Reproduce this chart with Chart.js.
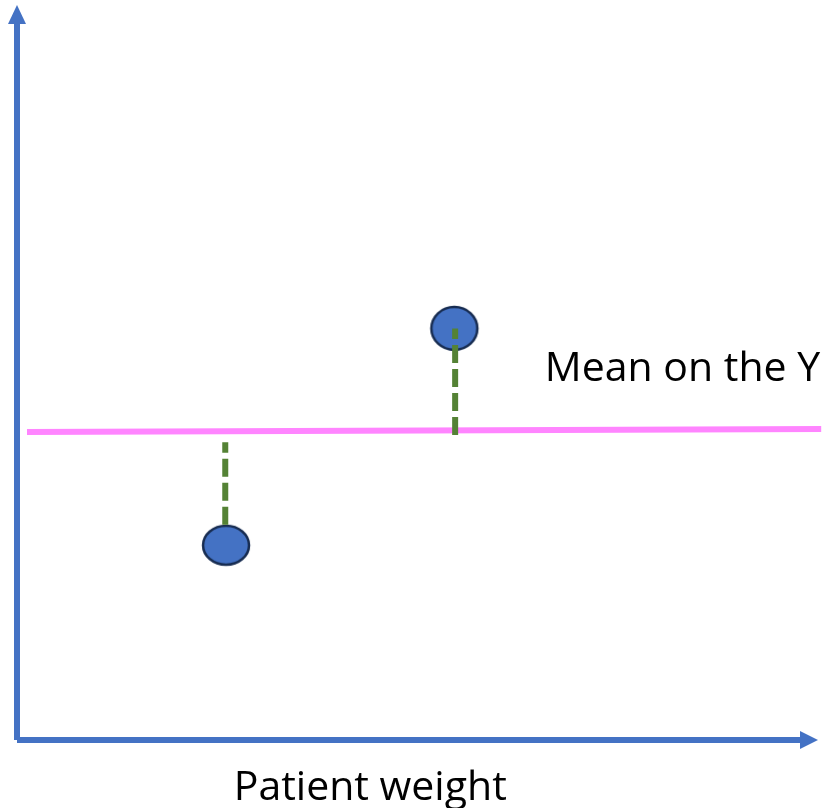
<!DOCTYPE html>
<html>
<head>
<meta charset="utf-8">
<script src="https://cdn.jsdelivr.net/npm/chart.js@4/dist/chart.umd.min.js"></script>
<style>
  html, body { margin: 0; padding: 0; background: #fff; }
  #wrap { width: 831px; height: 808px; }
</style>
</head>
<body>
<div id="wrap"><canvas id="chart"></canvas></div>
<script>
// two patients, arbitrary units, axes meet at 0,0 and run to 100
const patientWeight = [26.1, 54.6];
const patientValue = [26.5, 56.0];
// dashed residuals: bottom end and top end on the y scale
const residualX = [26.0, 54.7];
const residualLow = [29.3, 41.5];
const residualHigh = [40.5, 56.0];
// mean of y (drawn slightly tilted, as in the sketch)
const meanX = [1.25, 100.4];
const meanY = [41.9, 42.3];
const xLabel = "Patient weight";
const meanLabel = "Mean on the Y";

const blue = "#4472C4";
const green = "#548235";
const pink = "#FF85FF";

function ellipse(w, h) {
  const c = document.createElement("canvas");
  c.width = w + 4;
  c.height = h + 4;
  const g = c.getContext("2d");
  g.beginPath();
  g.ellipse(c.width / 2, c.height / 2, w / 2 - 1, h / 2 - 1, 0, 0, Math.PI * 2);
  g.fillStyle = blue;
  g.fill();
  g.lineWidth = 2.5;
  g.strokeStyle = "#172C51";
  g.stroke();
  return c;
}

const axesAndText = {
  id: "axesAndText",
  beforeDatasetsDraw(chart) {
    const ctx = chart.ctx;
    const x = chart.scales.x, y = chart.scales.y;
    const x0 = x.getPixelForValue(0), y0 = y.getPixelForValue(0);
    const xEnd = x.getPixelForValue(100), yEnd = y.getPixelForValue(100);
    ctx.save();
    ctx.strokeStyle = blue;
    ctx.fillStyle = blue;
    ctx.lineWidth = 6;
    ctx.lineCap = "butt";
    ctx.beginPath();
    ctx.moveTo(x0, y0);
    ctx.lineTo(x0, yEnd + 19);
    ctx.moveTo(x0, y0);
    ctx.lineTo(xEnd - 18, y0);
    ctx.stroke();
    // arrow heads
    ctx.beginPath();
    ctx.moveTo(x0, yEnd);
    ctx.lineTo(x0 + 9, yEnd + 19);
    ctx.lineTo(x0 - 9, yEnd + 19);
    ctx.closePath();
    ctx.fill();
    ctx.beginPath();
    ctx.moveTo(xEnd, y0);
    ctx.lineTo(xEnd - 18, y0 - 9);
    ctx.lineTo(xEnd - 18, y0 + 9);
    ctx.closePath();
    ctx.fill();
    ctx.restore();
  },
  afterDatasetsDraw(chart) {
    const ctx = chart.ctx;
    const x = chart.scales.x, y = chart.scales.y;
    ctx.save();
    ctx.fillStyle = "#000";
    ctx.font = "41px 'Open Sans'";
    ctx.textBaseline = "alphabetic";
    ctx.textAlign = "left";
    ctx.fillText(meanLabel, x.getPixelForValue(65.9), y.getPixelForValue(48.8));
    ctx.textAlign = "center";
    ctx.fillText(xLabel, x.getPixelForValue(44.1), y.getPixelForValue(-8.16));
    ctx.restore();
  }
};

const datasets = [
  {
    type: "scatter",
    data: patientWeight.map((w, i) => ({ x: w, y: patientValue[i] })),
    pointStyle: [ellipse(48, 41), ellipse(48, 45)],
    pointRadius: 23,
    order: 1,
    clip: false
  },
  {
    type: "line",
    data: meanX.map((v, i) => ({ x: v, y: meanY[i] })),
    borderColor: pink,
    borderWidth: 6,
    pointRadius: 0,
    order: 2,
    clip: false
  }
];
residualX.forEach((rx, i) => {
  datasets.push({
    type: "line",
    data: [{ x: rx, y: residualLow[i] }, { x: rx, y: residualHigh[i] }],
    borderColor: green,
    borderWidth: 6,
    borderDash: [18, 6],
    borderCapStyle: "butt",
    pointRadius: 0,
    order: 0,
    clip: false
  });
});

new Chart(document.getElementById("chart"), {
  data: { datasets: datasets },
  options: {
    responsive: true,
    maintainAspectRatio: false,
    animation: false,
    events: [],
    layout: { autoPadding: false, padding: { left: 17, top: 5, right: 13, bottom: 68 } },
    plugins: { legend: { display: false }, tooltip: { enabled: false } },
    scales: {
      x: { type: "linear", min: 0, max: 100, display: false },
      y: { type: "linear", min: 0, max: 100, display: false }
    }
  },
  plugins: [axesAndText]
});
</script>
</body>
</html>
